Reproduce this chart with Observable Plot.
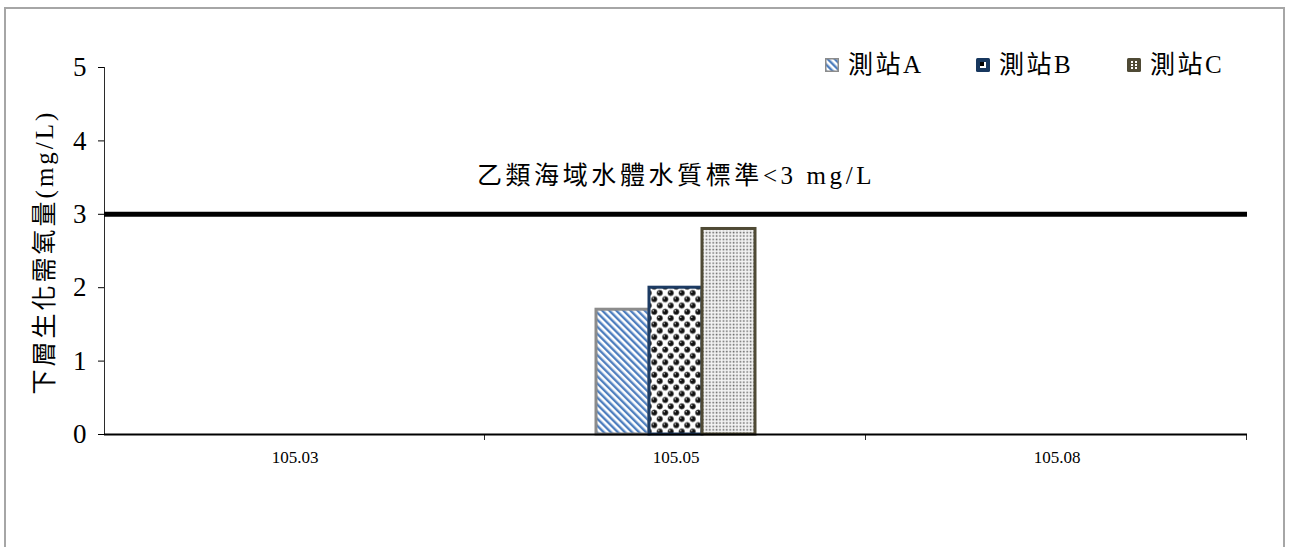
<!DOCTYPE html>
<html>
<head>
<meta charset="utf-8">
<script src="https://cdn.jsdelivr.net/npm/d3@7"></script>
<script src="https://cdn.jsdelivr.net/npm/@observablehq/plot@0.6"></script>
<style>
  html, body { margin: 0; padding: 0; background: #fff; }
  #wrap { position: relative; width: 1290px; height: 547px; overflow: hidden;
          font-family: "Liberation Serif", "Noto Sans CJK TC", serif; }
  #border { position: absolute; left: 4px; top: 7px; width: 1281px; height: 560px;
            border: 2px solid #a6a6a6; box-sizing: border-box; }
  #chart { position: absolute; left: 0; top: 0; }
  #ylabel { position: absolute; left: 42px; top: 252px; transform: translate(-50%, -50%) rotate(-90deg);
            white-space: nowrap; font-size: 25px; letter-spacing: 3px; color: #000; }
  .leg { position: absolute; top: 50px; font-size: 25px; line-height: 30px; letter-spacing: 2.5px; white-space: nowrap; display: flex; align-items: center; }
  .leg svg { margin-right: 9px; }
</style>
</head>
<body>
<div id="wrap">
  <div id="border"></div>
  <div id="chart"></div>
  <div id="ylabel">下層生化需氧量(mg/L)</div>
  <div class="leg" style="left:825px"><svg width="14" height="14"><rect x="0.75" y="0.75" width="12.5" height="12.5" fill="url(#pA)" stroke="#8c8c8c" stroke-width="1.5"/></svg>測站A</div>
  <div class="leg" style="left:976px"><svg width="14" height="14"><rect x="0" y="0" width="14" height="14" rx="1.5" fill="#17375e"/><rect x="4" y="4" width="6" height="6" fill="#fff"/><rect x="4" y="4" width="4" height="4" fill="#000"/></svg>測站B</div>
  <div class="leg" style="left:1127px"><svg width="14" height="14"><rect x="0" y="0" width="14" height="14" rx="1.5" fill="#4f4a35"/><g fill="#fff"><rect x="4" y="3" width="2" height="2"/><rect x="8" y="3" width="2" height="2"/><rect x="4" y="6" width="2" height="2"/><rect x="8" y="6" width="2" height="2"/><rect x="4" y="9" width="2" height="2"/><rect x="8" y="9" width="2" height="2"/></g></svg>測站C</div>
</div>
<script>
// ---- data ----
const dates = ["105.03", "105.05", "105.08"];
const stations = ["測站A", "測站B", "測站C"];
const valuesA = [null, 1.7, null];
const valuesB = [null, 2.0, null];
const valuesC = [null, 2.8, null];
const yTicks = [0, 1, 2, 3, 4, 5];
const standardValue = 3;
const standardLabel = "乙類海域水體水質標準<3 mg/L";

const fills = {"測站A": "url(#pA)", "測站B": "url(#pB)", "測站C": "url(#pC)"};
const strokes = {"測站A": "#8c8c8c", "測站B": "#1c3b63", "測站C": "#4f4a35"};

const seriesValues = [valuesA, valuesB, valuesC];
const data = [];
dates.forEach((d, i) => stations.forEach((s, j) => data.push({date: d, station: s, value: seriesValues[j][i]})));
const dateRows = dates.map(d => ({date: d}));

const W = 1290, H = 547, mL = 103, mR = 42, mT = 67, mB = 113;
const facetW = (W - mL - mR) / dates.length;
const font = '"Liberation Serif", "Noto Sans CJK TC", serif';

const chart = Plot.plot({
  width: W, height: H,
  marginLeft: mL, marginRight: mR, marginTop: mT, marginBottom: mB,
  style: {fontFamily: font, background: "transparent", color: "#000"},
  fx: {domain: dates, padding: 0, label: null},
  x: {domain: stations, paddingInner: 0, paddingOuter: 2.07, axis: null, label: null},
  y: {domain: [0, 5], label: null},
  color: {type: "identity"},
  marks: [
    Plot.barY(data.filter(d => d.value != null), {
      fx: "date", x: "station", y: "value",
      fill: d => fills[d.station], stroke: d => strokes[d.station], strokeWidth: 3
    }),
    Plot.ruleY([0], {stroke: "#000", strokeWidth: 2}),
    Plot.ruleY([standardValue], {stroke: "#000", strokeWidth: 5}),
    Plot.text([{date: dates[1], v: standardValue}], {
      fx: "date", y: "v", text: () => standardLabel, dy: -38, frameAnchor: "middle",
      fontSize: 25, fill: "#000"
    }),
    // y axis line (left edge of first facet)
    Plot.barY([{date: dates[0]}], {fx: "date", y1: 0, y2: 5, fill: "#000", insetRight: facetW - 1.5}),
    // category boundary ticks
    Plot.barY(dateRows, {fx: "date", y1: 0, y2: 0, fill: "#000", insetLeft: facetW - 1.5, insetBottom: -6}),
    Plot.axisY({ticks: yTicks, tickSize: 6, tickPadding: 12, fontSize: 27, label: null, tickFormat: d => d, stroke: "#000"}),
    Plot.axisFx({anchor: "bottom", tickSize: 0, tickPadding: 16, fontSize: 17, label: null})
  ]
});

const svg = d3.select(chart);
svg.selectAll("text").filter(function() { return this.textContent === standardLabel; })
  .attr("letter-spacing", "3.6px").style("letter-spacing", "3.6px");
const defs = svg.insert("defs", ":first-child");
// stripes (A)
const pA = defs.append("pattern").attr("id", "pA").attr("patternUnits", "userSpaceOnUse")
  .attr("width", 5).attr("height", 5).attr("patternTransform", "rotate(-45)");
pA.append("rect").attr("width", 5).attr("height", 5).attr("fill", "#fff");
pA.append("rect").attr("width", 2.4).attr("height", 5).attr("fill", "#4f7fbf");
// spheres (B)
const pB = defs.append("pattern").attr("id", "pB").attr("patternUnits", "userSpaceOnUse")
  .attr("width", 11).attr("height", 12.6);
pB.append("rect").attr("width", 11).attr("height", 12.6).attr("fill", "#fff");
[[2.75, 3.15], [8.25, 9.45], [8.25 - 11, 9.45], [2.75 + 11, 3.15], [2.75, 3.15 + 12.6], [8.25, 9.45 - 12.6]].forEach(([cx, cy]) => {
  pB.append("circle").attr("cx", cx).attr("cy", cy).attr("r", 2.9).attr("fill", "#111").attr("stroke", "#777").attr("stroke-width", 0.6);
  pB.append("circle").attr("cx", cx - 1).attr("cy", cy - 1).attr("r", 0.8).attr("fill", "#ccc");
});
// dots (C)
const pC = defs.append("pattern").attr("id", "pC").attr("patternUnits", "userSpaceOnUse")
  .attr("width", 3.4).attr("height", 3.4);
pC.append("rect").attr("width", 3.4).attr("height", 3.4).attr("fill", "#f4f4f4");
pC.append("rect").attr("x", 0.6).attr("y", 0.6).attr("width", 1.6).attr("height", 1.6).attr("fill", "#6a6a6a");

document.getElementById("chart").appendChild(chart);
</script>
</body>
</html>
